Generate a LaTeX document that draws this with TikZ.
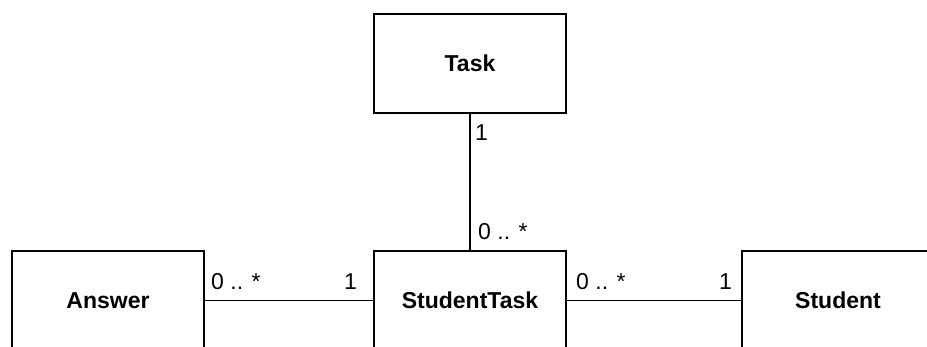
\documentclass[tikz,border=0pt]{standalone}
\usepackage{fontspec}
\setmainfont{Liberation Sans}
\begin{document}
\begin{tikzpicture}[x=1pt,y=-1pt,
  classbox/.style={draw=black, line width=1.6pt, fill=white, minimum width=192pt, minimum height=99pt,
    inner sep=0pt, font=\fontsize{23}{28}\selectfont\bfseries},
  assoc/.style={draw=black, line width=1.6pt},
  mult/.style={inner sep=0pt, font=\fontsize{23}{28}\selectfont}]
\useasboundingbox (0,0) rectangle (927,347);
\clip (0,0) rectangle (927,347);
\fill[white] (0,0) rectangle (927,347);
\node[classbox] (task) at (470,63.5) {Task};
\node[classbox] (st) at (470,300.5) {StudentTask};
\node[classbox] (answer) at (108,300.5) {Answer};
\node[classbox] (student) at (838,300.5) {Student};
\draw[assoc] (task) -- (st);
\draw[assoc] (answer) -- (st);
\draw[assoc] (st) -- (student);
\node[mult, anchor=base west] (m1) at (475,141) {1};
\node[mult, anchor=base west] (m2) at (478,240) {0 .. *};
\node[mult, anchor=base west] (m3) at (211,290) {0 .. *};
\node[mult, anchor=base east] (m4) at (357,290) {1};
\node[mult, anchor=base west] (m5) at (576,290) {0 .. *};
\node[mult, anchor=base east] (m6) at (732,290) {1};
\end{tikzpicture}
\end{document}
